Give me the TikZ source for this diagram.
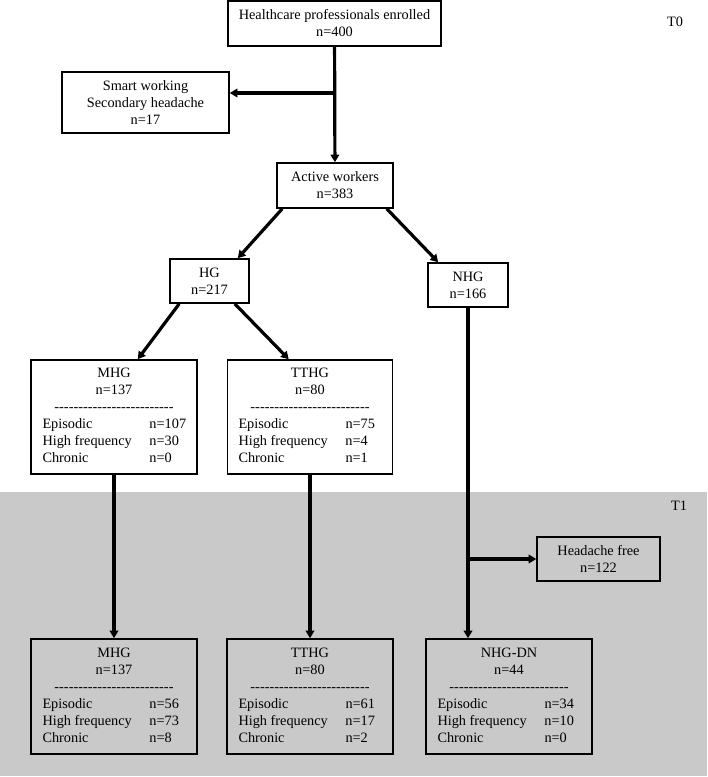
\documentclass[tikz,border=0pt]{standalone}
\usepackage{fontspec}
\setmainfont{Liberation Serif}
\usetikzlibrary{arrows.meta}
\definecolor{phasegray}{RGB}{201,201,201}
\newcommand{\dashrow}{\foreach \k in {1,...,25}{\mbox{-}}}
\newcommand{\grouptab}[5]{\begin{tabular}{@{}p{107pt}@{}p{36pt}@{}}
\multicolumn{2}{@{}c@{}}{#1}\\
\multicolumn{2}{@{}c@{}}{n=#2}\\
\multicolumn{2}{@{}c@{}}{\dashrow}\\
Episodic & n=#3\\
High frequency & n=#4\\
Chronic & n=#5
\end{tabular}}

\begin{document}
\begin{tikzpicture}[x=1pt,y=-1pt,
    box/.style={draw,line width=1.6pt,inner sep=0pt,align=center,font=\fontsize{14.3}{17}\selectfont},
    flow/.style={line width=3.2pt,-{Triangle[length=7.5pt,width=8.5pt]}},
    phase/.style={font=\fontsize{14.3}{17}\selectfont}]
        \useasboundingbox (0,0) rectangle (708,777);
        % T1 band
        \fill[phasegray] (0,492) rectangle (707,776);
        \draw (675,22) node[phase](t0_lab){T0};
        \draw (679,506) node[phase](t1_lab){T1};
        % T0
        \draw (334.5,23.5) node[box,minimum width=213pt,minimum height=45pt](t0_enr){Healthcare professionals enrolled\\n=400};
        \draw (145.5,102.5) node[box,minimum width=167pt,minimum height=61pt](t0_smart){Smart working\\Secondary headache\\n=17};
        \draw (335,185.5) node[box,minimum width=116pt,minimum height=45pt](t0_act){Active workers\\n=383};
        \draw (209.5,281) node[box,minimum width=79pt,minimum height=44pt](t0_hg){HG\\n=217};
        \draw (468,285) node[box,minimum width=80pt,minimum height=44pt](t0_nhg){NHG\\n=166};
        \draw (114,417) node[box,minimum width=166pt,minimum height=114pt](t0_mhg){\grouptab{MHG}{137}{107}{30}{0}};
        \draw (310,417) node[box,minimum width=165pt,minimum height=114pt](t0_tthg){\grouptab{TTHG}{80}{75}{4}{1}};
        % T1
        \draw (598.5,559) node[box,minimum width=123pt,minimum height=44pt](t1_free){Headache free\\n=122};
        \draw (114,696.5) node[box,minimum width=166pt,minimum height=115pt](t1_mhg){\grouptab{MHG}{137}{56}{73}{8}};
        \draw (310,696.5) node[box,minimum width=166pt,minimum height=115pt](t1_tthg){\grouptab{TTHG}{80}{61}{17}{2}};
        \draw (509,696.5) node[box,minimum width=166pt,minimum height=115pt](t1_nhg){\grouptab{NHG-DN}{44}{34}{10}{0}};
        \coordinate (t0_tap) at (335,93);
        \coordinate (t1_tap) at (468,559);
        \draw[flow] (t0_enr) -- (t0_act);
        \draw[flow] (t0_tap) -- (t0_tap -| t0_smart.east);
        \draw[flow] ([xshift=6pt]t0_act.south west) -- ([xshift=-12pt]t0_hg.north east);
        \draw[flow] ([xshift=-7pt]t0_act.south east) -- ([xshift=11pt]t0_nhg.north west);
        \draw[flow] ([xshift=10pt]t0_hg.south west) -- ([xshift=-60pt]t0_mhg.north east);
        \draw[flow] ([xshift=-15pt]t0_hg.south east) -- ([xshift=62pt]t0_tthg.north west);
        \draw[flow] (t0_mhg) -- (t1_mhg);
        \draw[flow] (t0_tthg) -- (t1_tthg);
        \draw[flow] (t0_nhg) -- (t0_nhg |- t1_nhg.north);
        \draw[flow] (t1_tap) -- (t1_free.west);
\end{tikzpicture}
\end{document}
